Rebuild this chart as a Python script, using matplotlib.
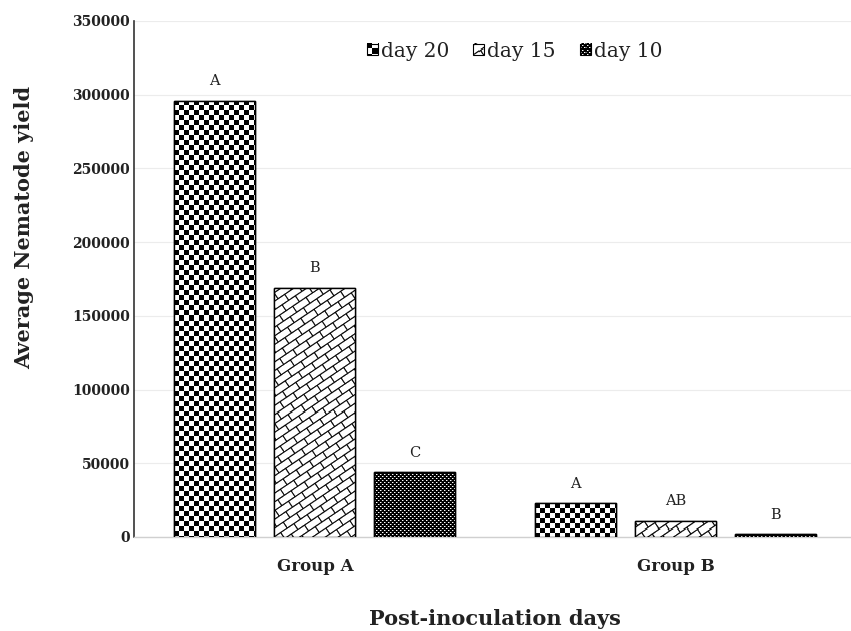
import numpy as np
import matplotlib
matplotlib.use("Agg")
import matplotlib.pyplot as plt
from matplotlib.patches import Rectangle
from matplotlib.image import BboxImage
from matplotlib.transforms import Bbox, TransformedBbox
from matplotlib.legend_handler import HandlerBase

# ---- data ----
groups = ["Group A", "Group B"]
series_names = ["day 20", "day 15", "day 10"]
day20 = [296000, 23000]
day15 = [169000, 11000]
day10 = [44000, 2000]
letters_day20 = ["A", "A"]
letters_day15 = ["B", "AB"]
letters_day10 = ["C", "B"]
yticks = [0, 50000, 100000, 150000, 200000, 250000, 300000, 350000]

SERIF = "DejaVu Serif"
TXT = "#222222"


# ---- fill patterns: return darkness in [0, 1] per pixel ----
def checker(h, w):
    y, x = np.mgrid[0:h, 0:w]
    return ((x // 5 + y // 5) % 2 == 0).astype(float)


def diag_brick(h, w, ss=4):
    # supersampled brick pattern with bricks running bottom-left -> top-right
    yy, xx = np.mgrid[0:h * ss, 0:w * ss]
    px = (xx + 0.5) / ss
    hgt = h - (yy + 0.5) / ss
    th = np.deg2rad(34)
    along = px * np.cos(th) + hgt * np.sin(th)
    normal = -px * np.sin(th) + hgt * np.cos(th)
    Q, P, lw = 7.2, 16.0, 1.0
    band = np.floor(normal / Q)
    line = np.abs(normal - np.round(normal / Q) * Q) < lw / 2
    off = np.where(band % 2 == 0, 0.0, P / 2)
    a = along - off
    seg = np.abs(a - np.round(a / P) * P) < lw / 2
    m = (line | seg).astype(float)
    return m.reshape(h, ss, w, ss).mean(axis=(1, 3)).clip(0, 1) ** 0.7


def trellis(h, w):
    y, x = np.mgrid[0:h, 0:w]
    d = np.ones((h, w))
    xm, ym = x % 4, y % 4
    d[((xm == 0) & (ym == 0)) | ((xm == 2) & (ym == 2))] = 0.0
    d[((xm == 1) & (ym == 0)) | ((xm == 3) & (ym == 2))] = 0.55
    return d


patterns = [checker, diag_brick, trellis]


def to_rgb(dark):
    v = 1.0 - dark
    return np.dstack([v, v, v])


fig = plt.figure(figsize=(8.51, 6.31), dpi=100)
ax = fig.add_axes([134 / 851, 94 / 631, (851 - 134) / 851, 516 / 631])
ax.set_xlim(-0.501, 1.485)
ax.set_ylim(0, 350000)

x = np.arange(len(groups))
offsets = [-0.278, 0.0, 0.277]
width = 0.224
all_series = [day20, day15, day10]
all_letters = [letters_day20, letters_day15, letters_day10]

for vals, off, pat, lets in zip(all_series, offsets, patterns, all_letters):
    bars = ax.bar(x + off, vals, width, color="white", edgecolor="black",
                  linewidth=1.0, zorder=3)
    for b, lab in zip(bars, lets):
        x0, y0 = b.get_x(), b.get_y()
        w, h = b.get_width(), b.get_height()
        p0 = ax.transData.transform((x0, y0))
        p1 = ax.transData.transform((x0 + w, y0 + h))
        npx_w = max(int(round(p1[0] - p0[0])), 1)
        npx_h = max(int(round(p1[1] - p0[1])), 1)
        im = ax.imshow(to_rgb(pat(npx_h, npx_w)), extent=(x0, x0 + w, y0, y0 + h),
                       interpolation="nearest", aspect="auto", zorder=3.5)
        im.set_clip_path(b)
        ax.add_patch(Rectangle((x0, y0), w, h, fill=False, edgecolor="black",
                               linewidth=1.0, zorder=4))
        ax.annotate(lab, (x0 + w / 2, y0 + h), xytext=(0, 9),
                    textcoords="offset points", ha="center", va="bottom",
                    fontsize=10.5, family=SERIF, color=TXT)

ax.set_xlim(-0.501, 1.485)
ax.set_ylim(0, 350000)

# axes styling
ax.set_yticks(yticks)
ax.set_yticklabels([str(v) for v in yticks], family=SERIF, fontweight="bold",
                   fontsize=10, color=TXT)
ax.set_xticks(x)
ax.set_xticklabels(groups, family=SERIF, fontweight="bold", fontsize=12,
                   color=TXT)
ax.tick_params(axis="both", length=0)
ax.tick_params(axis="y", pad=3)
ax.tick_params(axis="x", pad=15)
ax.grid(axis="y", color="#ececec", linewidth=0.8, zorder=0)
ax.set_axisbelow(True)
for side in ["top", "right"]:
    ax.spines[side].set_visible(False)
ax.spines["left"].set_color("#333333")
ax.spines["left"].set_linewidth(1.2)
ax.spines["bottom"].set_color("#d0d0d0")
ax.spines["bottom"].set_linewidth(1.0)

ax.set_ylabel("Average Nematode yield", family=SERIF, fontweight="bold",
              fontsize=15, color=TXT)
ax.yaxis.set_label_coords(-0.139, 0.60)
ax.set_xlabel("Post-inoculation days", family=SERIF, fontweight="bold",
              fontsize=15, color=TXT)
ax.xaxis.set_label_coords((495 - 134) / (851 - 134), -0.14)


# legend with patterned swatches
class PatternHandler(HandlerBase):
    def __init__(self, pat):
        super().__init__()
        self.pat = pat

    def create_artists(self, legend, orig_handle, xdescent, ydescent, width,
                       height, fontsize, trans):
        size = 8.0
        x0 = -xdescent + (width - size)
        y0 = -ydescent + (height - size) / 2
        bb = TransformedBbox(Bbox.from_bounds(x0, y0, size, size), trans)
        img = BboxImage(bb, interpolation="nearest")
        img.set_data(to_rgb(self.pat(11, 11)))
        frame = Rectangle((x0, y0), size, size, fill=False, edgecolor="black",
                          linewidth=0.8, transform=trans)
        return [img, frame]


handles = [Rectangle((0, 0), 1, 1) for _ in series_names]
leg = ax.legend(handles, series_names, loc="upper center",
                bbox_to_anchor=(0.531, 0.995), ncol=3, frameon=False,
                handler_map={h: PatternHandler(p) for h, p in zip(handles, patterns)},
                prop={"family": SERIF, "size": 14.5}, handlelength=0.55,
                handletextpad=0.15, columnspacing=1.2)
for t in leg.get_texts():
    t.set_color(TXT)

fig.savefig("out.png", dpi=100, facecolor="white")
